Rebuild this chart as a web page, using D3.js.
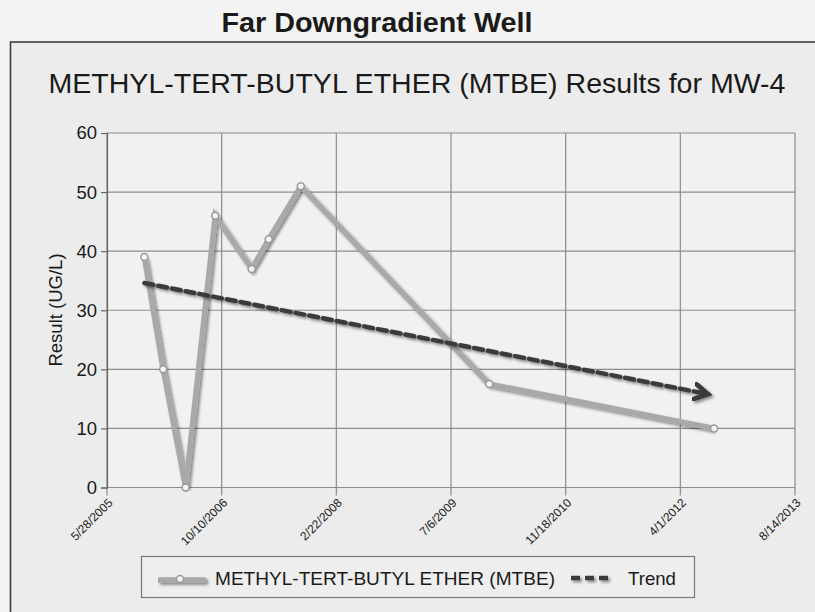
<!DOCTYPE html>
<html>
<head>
<meta charset="utf-8">
<script src="https://cdn.jsdelivr.net/npm/d3@7"></script>
<style>
  html, body { margin: 0; padding: 0; background: #f3f3f3; }
  svg { display: block; }
  text { font-family: "Liberation Sans", Arial, sans-serif; fill: #1a1a1a; }
</style>
</head>
<body>
<svg id="chart" width="815" height="612"></svg>
<script>
// ---- data ----
const sampleDates = ["2005-11-07","2006-01-28","2006-05-06","2006-09-12","2007-02-18","2007-05-03","2007-09-20","2009-12-20","2012-08-26"];
const mtbeValues  = [39, 20, 0, 46, 37, 42, 51, 17.5, 10];
const trendDates  = ["2005-11-07","2012-07-31"];
const trendValues = [34.6, 15.8];
const xTickLabels = ["5/28/2005","10/10/2006","2/22/2008","7/6/2009","11/18/2010","4/1/2012","8/14/2013"];
const yTicks      = [0, 10, 20, 30, 40, 50, 60];
const pageTitle   = "Far Downgradient Well";
const chartTitle  = "METHYL-TERT-BUTYL ETHER (MTBE) Results for MW-4";
const yLabel      = "Result (UG/L)";
const seriesNames = ["METHYL-TERT-BUTYL ETHER (MTBE)", "Trend"];

const parseISO = d3.timeParse("%Y-%m-%d");
const parseTick = d3.timeParse("%-m/%-d/%Y");

const svg = d3.select("#chart");

// shadow filter (user space so horizontal lines still render)
const defs = svg.append("defs");
const f = defs.append("filter").attr("id","shadow").attr("filterUnits","userSpaceOnUse")
  .attr("x",0).attr("y",0).attr("width",815).attr("height",612);
f.append("feGaussianBlur").attr("in","SourceAlpha").attr("stdDeviation",1.6).attr("result","b");
f.append("feOffset").attr("in","b").attr("dx",1.5).attr("dy",2).attr("result","o");
f.append("feComponentTransfer").attr("in","o").attr("result","o2")
  .append("feFuncA").attr("type","linear").attr("slope",0.45);
const m = f.append("feMerge");
m.append("feMergeNode").attr("in","o2");
m.append("feMergeNode").attr("in","SourceGraphic");

// arrow marker (chevron)
defs.append("marker").attr("id","arrow")
  .attr("viewBox","0 0 10 10").attr("refX",8).attr("refY",5)
  .attr("markerWidth",4.2).attr("markerHeight",4.2).attr("orient","auto")
  .append("path").attr("d","M1,1 L8,5 L1,9").attr("fill","none")
  .attr("stroke","#3a3a3a").attr("stroke-width",2.4).attr("stroke-linecap","round");

// page title
svg.append("text").attr("x",377).attr("y",32).attr("text-anchor","middle")
  .style("font-size","27px").style("font-weight","bold")
  .attr("textLength",311).attr("lengthAdjust","spacingAndGlyphs").text(pageTitle);

// frame
svg.append("rect").attr("x",10.5).attr("y",42).attr("width",830).attr("height",600)
  .attr("fill","#ececec").attr("stroke","#3c3c3c").attr("stroke-width",1.6);

// chart title
svg.append("text").attr("x",417).attr("y",93).attr("text-anchor","middle")
  .style("font-size","28.5px").attr("textLength",737).attr("lengthAdjust","spacingAndGlyphs")
  .text(chartTitle);

// scales
const x = d3.scaleTime()
  .domain([parseTick(xTickLabels[0]), parseTick(xTickLabels[xTickLabels.length-1])])
  .range([107, 795]);
const y = d3.scaleLinear().domain([0, 60]).range([487.5, 133]);

// plot background
svg.append("rect").attr("x",x.range()[0]).attr("y",y(60)).attr("width",x.range()[1]-x.range()[0]).attr("height",y(0)-y(60))
  .attr("fill","#f1f1f1");

// grid
const tickDates = xTickLabels.map(parseTick);
svg.append("g").selectAll("line").data(yTicks).join("line")
  .attr("x1",x.range()[0]).attr("x2",x.range()[1])
  .attr("y1",d=>y(d)).attr("y2",d=>y(d))
  .attr("stroke","#8c8c8c").attr("stroke-width",1.2);
svg.append("g").selectAll("line").data(tickDates).join("line")
  .attr("x1",d=>x(d)).attr("x2",d=>x(d))
  .attr("y1",y(60)).attr("y2",y(0)+8)
  .attr("stroke","#8c8c8c").attr("stroke-width",1.2);

// y axis
const yAxis = svg.append("g").attr("transform",`translate(${x.range()[0]},0)`)
  .call(d3.axisLeft(y).tickValues(yTicks).tickSize(6).tickPadding(4));
yAxis.select(".domain").attr("stroke","#666").attr("stroke-width",1.2);
yAxis.selectAll(".tick line").attr("stroke","#666").attr("stroke-width",1.2);
yAxis.selectAll("text").style("font-size","18.5px").attr("fill","#1a1a1a")
  .style("font-family","'Liberation Sans', Arial, sans-serif");

// x axis labels
const xAxis = svg.append("g").attr("transform",`translate(0,${y(0)})`)
  .call(d3.axisBottom(x).tickValues(tickDates).tickSize(0).tickFormat((d,i)=>xTickLabels[i]));
xAxis.select(".domain").remove();
xAxis.selectAll("text")
  .style("font-size","12px").style("font-family","'Liberation Sans', Arial, sans-serif")
  .attr("fill","#1a1a1a")
  .attr("text-anchor","end")
  .attr("dy","0.35em").attr("y",0)
  .attr("transform","translate(3,13) rotate(-45)");

// y label
svg.append("text").attr("transform","translate(62,310) rotate(-90)")
  .attr("text-anchor","middle").style("font-size","18.5px").text(yLabel);

// series line
const pts = sampleDates.map((d,i)=>({date:parseISO(d), v:mtbeValues[i]}));
const line = d3.line().x(d=>x(d.date)).y(d=>y(d.v));
svg.append("path").datum(pts).attr("d",line)
  .attr("fill","none").attr("stroke","#a9a9a9").attr("stroke-width",5.5)
  .attr("stroke-linejoin","miter").attr("filter","url(#shadow)");
svg.append("g").selectAll("circle").data(pts).join("circle")
  .attr("cx",d=>x(d.date)).attr("cy",d=>y(d.v)).attr("r",3.5)
  .attr("fill","#f4f4f4").attr("stroke","#9a9a9a").attr("stroke-width",1.5);

// trend line
const tpts = trendDates.map((d,i)=>({date:parseISO(d), v:trendValues[i]}));
svg.append("path").datum(tpts).attr("d",line)
  .attr("fill","none").attr("stroke","#3a3a3a").attr("stroke-width",4.5)
  .attr("stroke-dasharray","9,5").attr("stroke-linecap","round")
  .attr("marker-end","url(#arrow)").attr("filter","url(#shadow)");

// legend
const lg = svg.append("g");
lg.append("rect").attr("x",141.5).attr("y",556.5).attr("width",553).attr("height",41)
  .attr("fill","#eeeeee").attr("stroke","#777").attr("stroke-width",1.2);
lg.append("line").attr("x1",158).attr("x2",206).attr("y1",580).attr("y2",580)
  .attr("stroke","#a9a9a9").attr("stroke-width",5.5).attr("filter","url(#shadow)");
lg.append("circle").attr("cx",180).attr("cy",579).attr("r",3.5)
  .attr("fill","#f4f4f4").attr("stroke","#9a9a9a").attr("stroke-width",1.5);
lg.append("text").attr("x",215).attr("y",585).style("font-size","18.5px")
  .attr("textLength",340).attr("lengthAdjust","spacingAndGlyphs").text(seriesNames[0]);
lg.append("line").attr("x1",571).attr("x2",612).attr("y1",578).attr("y2",578)
  .attr("stroke","#3a3a3a").attr("stroke-width",4.5).attr("stroke-dasharray","9,5")
  .attr("filter","url(#shadow)");
lg.append("text").attr("x",628).attr("y",585).style("font-size","18.5px")
  .attr("textLength",48).attr("lengthAdjust","spacingAndGlyphs").text(seriesNames[1]);
</script>
</body>
</html>
